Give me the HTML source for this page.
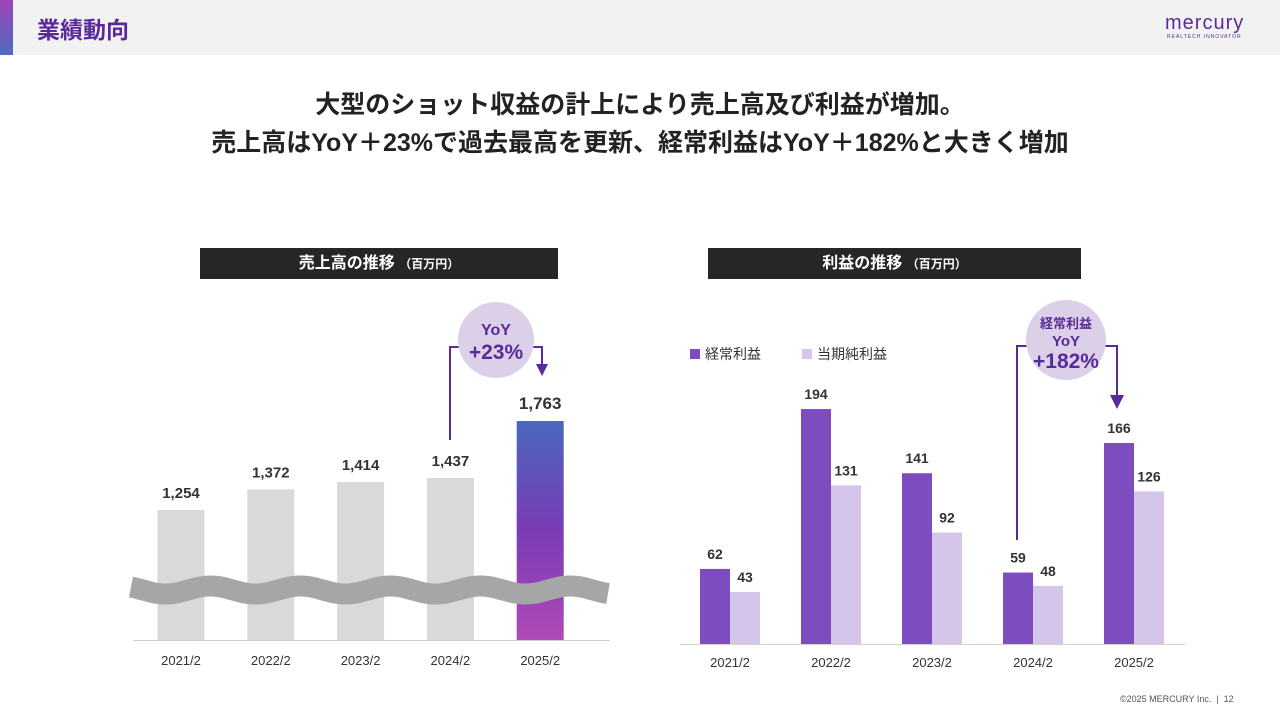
<!DOCTYPE html>
<html><head><meta charset="utf-8"><style>
body{margin:0;width:1280px;height:720px;background:#fff;font-family:"Liberation Sans","Noto Sans CJK JP",sans-serif;position:relative;overflow:hidden}
.abs{position:absolute}
</style></head><body>
<div class="abs" style="left:0;top:0;width:1280px;height:55px;background:#f2f2f2"></div>
<div class="abs" style="left:0;top:0;width:13px;height:55px;background:linear-gradient(#a044b8,#4d6cc0)"></div>
<div class="abs" style="left:37px;top:11px;font-size:23px;font-weight:bold;color:#5a2a9a">業績動向</div>
<div class="abs" style="left:1165px;top:12px;color:#5a2a9a;font-size:20px;letter-spacing:1px">mercury</div>
<div class="abs" style="left:1167px;top:34px;color:#5a2a9a;font-size:5px;letter-spacing:1px">REALTECH INNOVATOR</div>
<div class="abs" style="left:0;top:86px;width:1280px;text-align:center;font-size:25px;font-weight:bold;color:#222;line-height:38px">大型のショット収益の計上により売上高及び利益が増加。<br>売上高はYoY＋23%で過去最高を更新、経常利益はYoY＋182%と大きく増加</div>
<div class="abs" style="left:200px;top:248px;width:358px;height:31px;background:#262626;color:#fff;text-align:center;line-height:31px;font-size:16px;font-weight:bold">売上高の推移 <span style="font-size:12px">（百万円）</span></div>
<div class="abs" style="left:708px;top:248px;width:373px;height:31px;background:#262626;color:#fff;text-align:center;line-height:31px;font-size:16px;font-weight:bold">利益の推移 <span style="font-size:12px">（百万円）</span></div>
<div class="abs" style="left:1120px;top:694px;font-size:9px;color:#555">©2025 MERCURY Inc.  &nbsp;|&nbsp;  12</div>
<svg class="abs" style="left:0;top:0" width="1280" height="720" id="chart">
<defs><linearGradient id="g1" x1="0" y1="0" x2="0" y2="1"><stop offset="0" stop-color="#4a68bd"/><stop offset="0.5" stop-color="#7a3bb5"/><stop offset="1" stop-color="#b04ab8"/></linearGradient></defs>
</svg>
<script>
const salesCats=["2021/2","2022/2","2023/2","2024/2","2025/2"];
const salesVals=[1254,1372,1414,1437,1763];
const profitCats=["2021/2","2022/2","2023/2","2024/2","2025/2"];
const ordinaryVals=[62,194,141,59,166];
const netVals=[43,131,92,48,126];
const NS="http://www.w3.org/2000/svg";
const svg=document.getElementById('chart');
function mk(t,a,txt){const e=document.createElementNS(NS,t);for(const k in a)e.setAttribute(k,a[k]);if(txt!=null)e.textContent=txt;svg.appendChild(e);return e;}
const sy=v=>640-(v-511)*0.1749, sx=i=>181+i*89.8;
salesVals.forEach((v,i)=>{
 const r=mk('rect',{x:sx(i)-23.5,y:sy(v),width:47,height:640-sy(v),fill:i==4?'url(#g1)':'#d9d9d9'});
 
 
 const t=mk('text',{x:sx(i),y:sy(v)-12,'text-anchor':'middle','font-size':i==4?17:15,'font-weight':'bold',fill:'#333'},v.toLocaleString('en-US'));
 
 
 const c=mk('text',{x:sx(i),y:665,'text-anchor':'middle','font-size':13,fill:'#333'},salesCats[i]);
 
 
});
let d='';
for(let x=131;x<=609;x+=3){const y=590-4*Math.sin((x-188)/90*2*Math.PI);d+=(d?' L':'M')+x+','+y.toFixed(1);}
const wave=mk('path',{d:d,stroke:'#a6a6a6','stroke-width':21,fill:'none'});


const ax1=mk('line',{x1:133,y1:640.5,x2:610,y2:640.5,stroke:'#d0d0d0'});


mk('path',{d:`M450,440 V347 H462 M530,347 H542 V368`,stroke:'#5a2a9a','stroke-width':2,fill:'none'});
mk('path',{d:'M536,364 L548,364 L542,376 Z',fill:'#5a2a9a'});
const c1=mk('circle',{cx:496,cy:340,r:38,fill:'#dcd0e8'});


mk('text',{x:496,y:335,'text-anchor':'middle','font-size':16,'font-weight':'bold',fill:'#5a2a9a'},'YoY');
mk('text',{x:496,y:359,'text-anchor':'middle','font-size':21,'font-weight':'bold',fill:'#5a2a9a'},'+23%');
const py=v=>644-v*1.211, px=i=>730+i*101;
ordinaryVals.forEach((v,i)=>{
 const r=mk('rect',{x:px(i)-30,y:py(v),width:30,height:644-py(v),fill:'#7d4dbf'});
 
 
 const t=mk('text',{x:px(i)-15,y:py(v)-10,'text-anchor':'middle','font-size':14,'font-weight':'bold',fill:'#333'},v);
 
 
 const c=mk('text',{x:px(i),y:667,'text-anchor':'middle','font-size':13,fill:'#333'},profitCats[i]);
 
 
});
netVals.forEach((v,i)=>{
 const r=mk('rect',{x:px(i),y:py(v),width:30,height:644-py(v),fill:'#d5c5ea'});
 
 
 const t=mk('text',{x:px(i)+15,y:py(v)-10,'text-anchor':'middle','font-size':14,'font-weight':'bold',fill:'#333'},v);
 
 
});
const ax2=mk('line',{x1:680,y1:644.5,x2:1185,y2:644.5,stroke:'#d0d0d0'});


const l1=mk('rect',{x:690,y:349,width:10,height:10,fill:'#7d4dbf'});


mk('text',{x:705,y:359,'font-size':14,fill:'#333'},'経常利益');
const l2=mk('rect',{x:802,y:349,width:10,height:10,fill:'#d5c5ea'});


mk('text',{x:817,y:359,'font-size':14,fill:'#333'},'当期純利益');
mk('path',{d:`M1017,540 V346 H1030 M1102,346 H1117 V398`,stroke:'#5a2a9a','stroke-width':2,fill:'none'});
mk('path',{d:'M1110,395 L1124,395 L1117,409 Z',fill:'#5a2a9a'});
const c2=mk('circle',{cx:1066,cy:340,r:40,fill:'#dcd0e8'});


mk('text',{x:1066,y:328,'text-anchor':'middle','font-size':13,'font-weight':'bold',fill:'#5a2a9a'},'経常利益');
mk('text',{x:1066,y:346,'text-anchor':'middle','font-size':15,'font-weight':'bold',fill:'#5a2a9a'},'YoY');
mk('text',{x:1066,y:368,'text-anchor':'middle','font-size':21,'font-weight':'bold',fill:'#5a2a9a'},'+182%');
</script>
</body></html>
